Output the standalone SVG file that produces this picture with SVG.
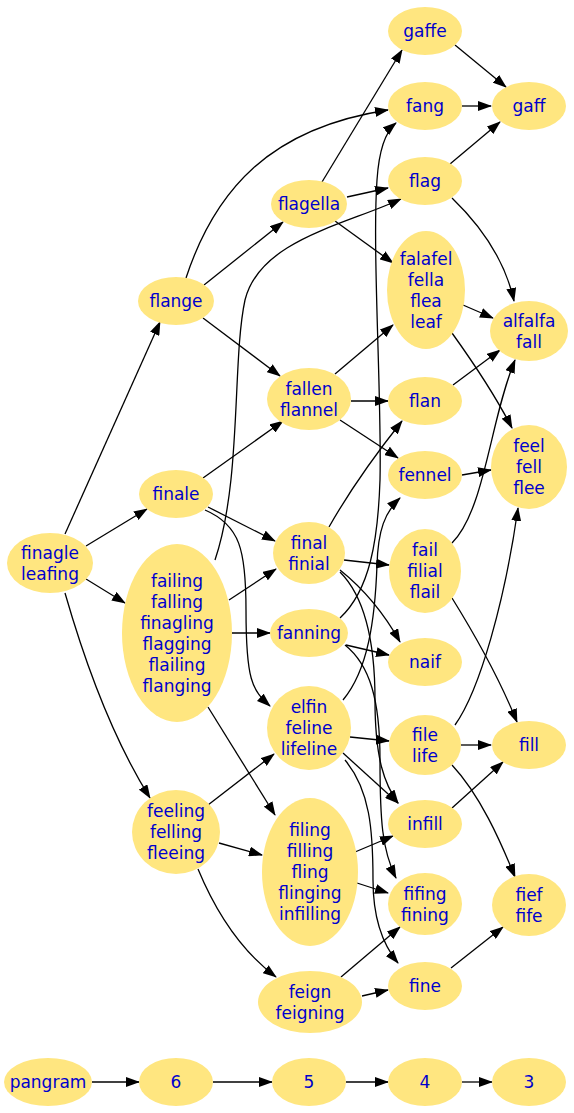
<svg xmlns="http://www.w3.org/2000/svg" width="574" height="1113" viewBox="0 0 574 1113">
<style>
.n ellipse{fill:#ffe680;stroke:none}
.n text{font-family:"DejaVu Sans","Liberation Sans",sans-serif;font-size:17px;fill:#0000cd;text-anchor:middle}
.e path{fill:none;stroke:#000;stroke-width:1.3;marker-end:url(#a)}
</style>
<defs>
<marker id="a" markerUnits="userSpaceOnUse" markerWidth="14" markerHeight="10" refX="13" refY="5" orient="auto">
<path d="M0,0 L14,5 L0,10 z" fill="#000"/>
</marker>
</defs>
<rect width="574" height="1113" fill="#fff"/>
<g id="edges" class="e">
<path d="M455,45 L506,87"/>
<path d="M462,106 L491,106"/>
<path d="M450,164 L500,122"/>
<path d="M322,182 L402,50"/>
<path d="M347,197 L388,188"/>
<path d="M335,221 L393,263"/>
<path d="M186,278 C215,190 270,128 388,110"/>
<path d="M204,285 L283,222"/>
<path d="M203,318 L280,376"/>
<path d="M65,534 L160,322"/>
<path d="M86,546 L147,509"/>
<path d="M86,579 L125,603"/>
<path d="M65,593 C90,680 120,750 150,798"/>
<path d="M203,478 L283,421"/>
<path d="M208,507 L275,541"/>
<path d="M205,510 C240,525 246,550 246,610 C246,680 252,690 270,706"/>
<path d="M215,560 C242,480 232,360 245,300 C260,240 345,225 401,199"/>
<path d="M229,600 L276,569"/>
<path d="M232,633 L270,633"/>
<path d="M208,707 L275,815"/>
<path d="M335,374 L393,325"/>
<path d="M351,401 L388,401"/>
<path d="M340,420 L398,458"/>
<path d="M452,198 C480,225 505,260 514,301"/>
<path d="M463,305 L493,318"/>
<path d="M452,333 C475,365 495,395 512,428"/>
<path d="M453,385 L500,350"/>
<path d="M462,475 L491,470"/>
<path d="M452,543 C485,510 490,420 515,360"/>
<path d="M452,598 C475,635 500,680 517,722"/>
<path d="M329,527 C350,490 375,455 402,421"/>
<path d="M344,560 L389,565"/>
<path d="M340,570 C365,590 385,615 400,642"/>
<path d="M340,572 C368,600 375,650 375,700 C375,760 385,785 398,803"/>
<path d="M340,618 C370,590 378,540 380,480 C382,400 372,250 377,180 C379,150 385,132 396,123"/>
<path d="M343,700 C368,670 375,620 377,565 C378,530 385,512 400,498"/>
<path d="M346,645 L389,655"/>
<path d="M345,645 C370,665 380,700 380,760 C380,820 382,850 396,878"/>
<path d="M350,737 L389,741"/>
<path d="M343,753 L398,803"/>
<path d="M345,760 C370,790 373,830 373,880 C373,920 383,945 398,963"/>
<path d="M461,745 L491,745"/>
<path d="M455,725 C480,690 505,600 518,508"/>
<path d="M452,765 C480,795 500,840 515,877"/>
<path d="M452,808 L503,762"/>
<path d="M208,805 L274,754"/>
<path d="M219,843 L262,855"/>
<path d="M198,869 C215,910 240,950 276,977"/>
<path d="M355,852 L393,836"/>
<path d="M357,883 L388,893"/>
<path d="M341,977 L400,927"/>
<path d="M362,996 L388,990"/>
<path d="M451,968 L503,927"/>
<path d="M92,1082 L139,1082"/>
<path d="M213,1082 L272,1082"/>
<path d="M346,1082 L388,1082"/>
<path d="M462,1082 L492,1082"/>
</g>
<g id="gaffe" class="n"><ellipse cx="425" cy="31" rx="37" ry="24"/><text x="425" y="37">gaffe</text></g>
<g id="fang" class="n"><ellipse cx="425" cy="106" rx="37" ry="24"/><text x="425" y="112">fang</text></g>
<g id="gaff" class="n"><ellipse cx="529" cy="106" rx="37" ry="24"/><text x="529" y="112">gaff</text></g>
<g id="flag" class="n"><ellipse cx="425" cy="181" rx="37" ry="24"/><text x="425" y="187">flag</text></g>
<g id="flagella" class="n"><ellipse cx="309" cy="204" rx="38" ry="24"/><text x="309" y="210">flagella</text></g>
<g id="falafel" class="n"><ellipse cx="426" cy="290" rx="39" ry="59"/><text x="426" y="264.5">falafel</text><text x="426" y="285.5">fella</text><text x="426" y="306.5">flea</text><text x="426" y="327.5">leaf</text></g>
<g id="alfalfa" class="n"><ellipse cx="529" cy="331" rx="39" ry="30"/><text x="529" y="326.5">alfalfa</text><text x="529" y="347.5">fall</text></g>
<g id="flange" class="n"><ellipse cx="176" cy="301" rx="38" ry="24"/><text x="176" y="307">flange</text></g>
<g id="fallen" class="n"><ellipse cx="309" cy="399" rx="42" ry="31"/><text x="309" y="394.5">fallen</text><text x="309" y="415.5">flannel</text></g>
<g id="flan" class="n"><ellipse cx="425" cy="401" rx="37" ry="24"/><text x="425" y="407">flan</text></g>
<g id="fennel" class="n"><ellipse cx="425" cy="475" rx="37" ry="24"/><text x="425" y="481">fennel</text></g>
<g id="feel" class="n"><ellipse cx="529" cy="467" rx="38" ry="42"/><text x="529" y="452">feel</text><text x="529" y="473">fell</text><text x="529" y="494">flee</text></g>
<g id="finale" class="n"><ellipse cx="176" cy="494" rx="37" ry="24"/><text x="176" y="500">finale</text></g>
<g id="finagle" class="n"><ellipse cx="50" cy="563" rx="43" ry="30"/><text x="50" y="558.5">finagle</text><text x="50" y="579.5">leafing</text></g>
<g id="final" class="n"><ellipse cx="309" cy="553" rx="36" ry="31"/><text x="309" y="548.5">final</text><text x="309" y="569.5">finial</text></g>
<g id="fail" class="n"><ellipse cx="425" cy="571" rx="36" ry="42"/><text x="425" y="556">fail</text><text x="425" y="577">filial</text><text x="425" y="598">flail</text></g>
<g id="failing" class="n"><ellipse cx="177" cy="633" rx="55" ry="89"/><text x="177" y="586.5">failing</text><text x="177" y="607.5">falling</text><text x="177" y="628.5">finagling</text><text x="177" y="649.5">flagging</text><text x="177" y="670.5">flailing</text><text x="177" y="691.5">flanging</text></g>
<g id="fanning" class="n"><ellipse cx="309" cy="633" rx="39" ry="24"/><text x="309" y="639">fanning</text></g>
<g id="naif" class="n"><ellipse cx="425" cy="662" rx="37" ry="24"/><text x="425" y="668">naif</text></g>
<g id="elfin" class="n"><ellipse cx="309" cy="728" rx="42" ry="42"/><text x="309" y="713">elfin</text><text x="309" y="734">feline</text><text x="309" y="755">lifeline</text></g>
<g id="file" class="n"><ellipse cx="425" cy="745" rx="36" ry="30"/><text x="425" y="740.5">file</text><text x="425" y="761.5">life</text></g>
<g id="fill" class="n"><ellipse cx="529" cy="745" rx="37" ry="24"/><text x="529" y="751">fill</text></g>
<g id="feeling" class="n"><ellipse cx="176" cy="832" rx="44" ry="42"/><text x="176" y="817">feeling</text><text x="176" y="838">felling</text><text x="176" y="859">fleeing</text></g>
<g id="infill" class="n"><ellipse cx="425" cy="824" rx="37" ry="24"/><text x="425" y="830">infill</text></g>
<g id="filing" class="n"><ellipse cx="310" cy="872" rx="48" ry="74"/><text x="310" y="836">filing</text><text x="310" y="857">filling</text><text x="310" y="878">fling</text><text x="310" y="899">flinging</text><text x="310" y="920">infilling</text></g>
<g id="fifing" class="n"><ellipse cx="425" cy="904" rx="37" ry="31"/><text x="425" y="899.5">fifing</text><text x="425" y="920.5">fining</text></g>
<g id="fief" class="n"><ellipse cx="529" cy="905" rx="37" ry="31"/><text x="529" y="900.5">fief</text><text x="529" y="921.5">fife</text></g>
<g id="feign" class="n"><ellipse cx="310" cy="1002" rx="52" ry="31"/><text x="310" y="997.5">feign</text><text x="310" y="1018.5">feigning</text></g>
<g id="fine" class="n"><ellipse cx="425" cy="986" rx="37" ry="24"/><text x="425" y="992">fine</text></g>
<g id="pangram" class="n"><ellipse cx="48" cy="1082" rx="44" ry="24"/><text x="48" y="1088">pangram</text></g>
<g id="n6" class="n"><ellipse cx="176" cy="1082" rx="37" ry="24"/><text x="176" y="1088">6</text></g>
<g id="n5" class="n"><ellipse cx="309" cy="1082" rx="37" ry="24"/><text x="309" y="1088">5</text></g>
<g id="n4" class="n"><ellipse cx="425" cy="1082" rx="37" ry="24"/><text x="425" y="1088">4</text></g>
<g id="n3" class="n"><ellipse cx="529" cy="1082" rx="37" ry="24"/><text x="529" y="1088">3</text></g>
</svg>
